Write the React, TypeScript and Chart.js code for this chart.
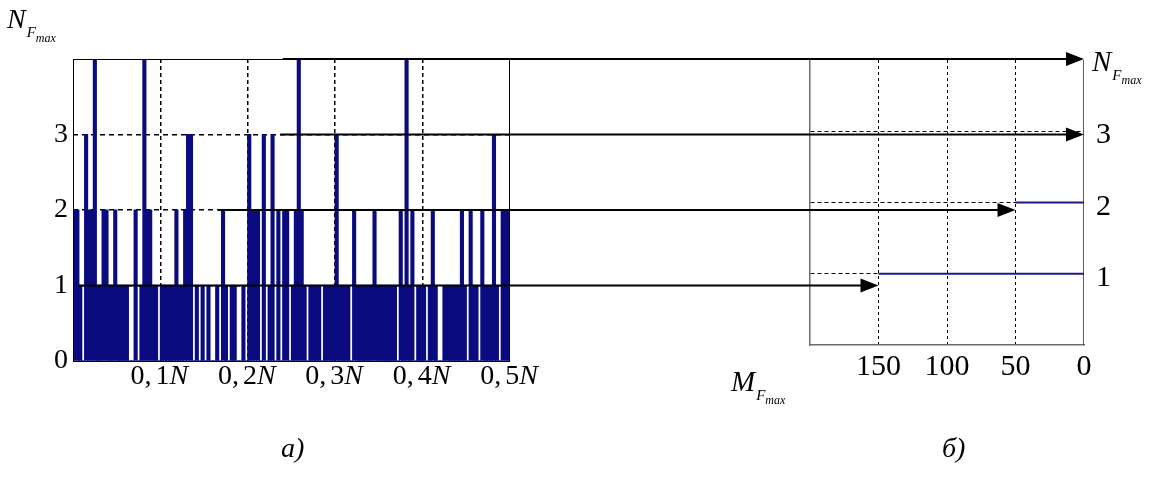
import React, { useEffect, useRef } from 'react';
import { Chart, registerables } from 'chart.js';

Chart.register(...registerables);

const W = 1157;
const H = 479;
const SERIF = '"Liberation Serif", "Times New Roman", "DejaVu Serif", serif';
const NAVY = '#0b0b80';
const LINE_NAVY = '#1c1c86';

// ---- left chart (a): N_Fmax per bin over 0..0.5N ----
const barValues: number[] = [
  2, 2, 1, 0, 3, 2, 2, 4, 1, 1,
  2, 2, 1, 1, 2, 1, 1, 1, 1, 0,
  0, 2, 0, 1, 4, 2, 2, 1, 1, 0,
  1, 1, 1, 1, 1, 2, 1, 1, 2, 3,
  3, 0, 1, 0, 1, 0, 1, 0, 0, 1,
  0, 2, 1, 0, 1, 1, 0, 0, 1, 0,
  3, 2, 2, 2, 0, 3, 0, 1, 3, 0,
  2, 0, 2, 2, 0, 1, 2, 4, 2, 1,
  0, 1, 1, 1, 1, 0, 1, 1, 1, 1,
  3, 1, 1, 1, 1, 0, 2, 1, 1, 1,
  1, 1, 1, 2, 1, 1, 1, 1, 1, 1,
  1, 0, 2, 1, 4, 1, 2, 0, 1, 1,
  1, 0, 1, 2, 1, 0, 0, 1, 1, 1,
  1, 1, 1, 2, 1, 0, 2, 1, 1, 0,
  2, 1, 1, 1, 3, 1, 0, 2, 2, 2,
];
const xRangeN = 0.5;
const xTickValues = [0.1, 0.2, 0.3, 0.4, 0.5];
const xTickNumbers = ['0,', '0,', '0,', '0,', '0,'];
const xTickDigits = ['1', '2', '3', '4', '5'];
const yTickValues = [0, 1, 2, 3];

// ---- right chart (b): M_Fmax ----
const mTickValues = [150, 100, 50, 0];
const stepLevels = [1, 2];
const stepStartM = [150, 50];
const rightLabelLevels = [3, 2, 1];

// ---- arrows linking (a) to (b) ----
const arrowLevels = [4, 3, 2, 1];
const arrowStartN = [0.24, 0.237, 0.166, 0.006];
const arrowEndM = [0, 0, 50, 150];

type Part = { t: string; size: number; italic?: boolean; dx?: number; dy?: number };

function drawParts(ctx: CanvasRenderingContext2D, parts: Part[], x: number, y: number, align: 'left' | 'center') {
  ctx.save();
  ctx.textAlign = 'left';
  ctx.textBaseline = 'alphabetic';
  ctx.fillStyle = '#000';
  let total = 0;
  const widths = parts.map((p) => {
    ctx.font = `${p.italic ? 'italic ' : ''}${p.size}px ${SERIF}`;
    const w = ctx.measureText(p.t).width;
    total += w + (p.dx || 0);
    return w;
  });
  let cx = align === 'center' ? x - total / 2 : x;
  parts.forEach((p, i) => {
    cx += p.dx || 0;
    ctx.font = `${p.italic ? 'italic ' : ''}${p.size}px ${SERIF}`;
    ctx.fillText(p.t, cx, y + (p.dy || 0));
    cx += widths[i];
  });
  ctx.restore();
}

export default function App() {
  const refA = useRef<HTMLCanvasElement>(null);
  const refB = useRef<HTMLCanvasElement>(null);

  useEffect(() => {
    const bin = xRangeN / barValues.length;
    const leftPlugin = {
      id: 'leftDecor',
      afterDraw(chart: any) {
        const ctx: CanvasRenderingContext2D = chart.ctx;
        const a = chart.chartArea;
        ctx.save();
        ctx.strokeStyle = '#000';
        ctx.lineWidth = 1;
        ctx.strokeRect(a.left + 0.5, a.top + 0.5, a.right - a.left - 1, a.bottom - a.top);
        ctx.restore();
        const xs = chart.scales.x;
        xTickValues.forEach((v, i) => {
          drawParts(
            ctx,
            [
              { t: xTickNumbers[i], size: 28 },
              { t: xTickDigits[i], size: 28, dx: 4 },
              { t: 'N', size: 28, italic: true },
            ],
            xs.getPixelForValue(v) - 1,
            384,
            'center'
          );
        });
        drawParts(
          ctx,
          [
            { t: 'N', size: 28, italic: true },
            { t: 'F', size: 15, italic: true, dx: 1, dy: 9 },
            { t: 'max', size: 12, italic: true, dy: 14 },
          ],
          7,
          28,
          'left'
        );
        drawParts(ctx, [{ t: 'а)', size: 28, italic: true }], 281, 457, 'left');
      },
    };

    const chartA = new Chart(refA.current as HTMLCanvasElement, {
      type: 'bar',
      data: {
        datasets: [
          {
            data: barValues.map((v, i) => ({ x: (i + 0.5) * bin, y: v })),
            backgroundColor: NAVY,
            borderWidth: 0,
            inflateAmount: 0.6,
            barPercentage: 1,
            categoryPercentage: 1,
          } as any,
        ],
      },
      options: {
        animation: false,
        responsive: false,
        events: [],
        layout: { padding: { left: 0, top: 59, right: W - 510, bottom: 0 } },
        plugins: { legend: { display: false }, tooltip: { enabled: false } },
        scales: {
          x: {
            type: 'linear',
            min: 0,
            max: xRangeN,
            offset: false,
            ticks: { stepSize: 0.1, display: false },
            grid: {
              offset: false,
              drawTicks: false,
              lineWidth: 1.5,
              color: (c: any) => (c.index >= 1 && c.index <= 4 ? '#000' : 'rgba(0,0,0,0)'),
            },
            border: { display: false, dash: [4, 3] },
            afterFit: (s: any) => {
              s.height = H - 361;
            },
          },
          y: {
            min: 0,
            max: 4,
            afterBuildTicks: (s: any) => {
              s.ticks = [...yTickValues, 4].map((v) => ({ value: v }));
            },
            ticks: {
              callback: (v: any) => (yTickValues.includes(Number(v)) ? String(v) : ''),
              font: { family: SERIF, size: 28 },
              color: '#000',
              padding: 5,
            },
            grid: {
              drawTicks: false,
              lineWidth: 1.5,
              color: (c: any) => (c.tick && c.tick.value >= 1 && c.tick.value <= 3 ? '#000' : 'rgba(0,0,0,0)'),
            },
            border: { display: false, dash: [5, 4] },
            afterFit: (s: any) => {
              s.width = 73;
            },
          },
        },
      } as any,
      plugins: [leftPlugin],
    });

    const rightPlugin = {
      id: 'rightDecor',
      afterDraw(chart: any) {
        const ctx: CanvasRenderingContext2D = chart.ctx;
        const ax = chartA.scales.x;
        const ay = chartA.scales.y;
        const bx = chart.scales.x;
        const by = chart.scales.y;
        // arrows
        arrowLevels.forEach((lvl, i) => {
          const y = ay.getPixelForValue(lvl);
          const x0 = ax.getPixelForValue(arrowStartN[i]);
          const tip = bx.getPixelForValue(arrowEndM[i]);
          const head = 18;
          ctx.save();
          ctx.strokeStyle = '#000';
          ctx.fillStyle = '#000';
          ctx.lineWidth = 2;
          ctx.beginPath();
          ctx.moveTo(x0, y);
          ctx.lineTo(tip - head + 2, y);
          ctx.stroke();
          ctx.beginPath();
          ctx.moveTo(tip, y);
          ctx.lineTo(tip - head, y - 7);
          ctx.lineTo(tip - head, y + 7);
          ctx.closePath();
          ctx.fill();
          ctx.restore();
        });
        // right-side level labels
        rightLabelLevels.forEach((lvl) => {
          drawParts(ctx, [{ t: String(lvl), size: 30 }], 1096, by.getPixelForValue(lvl) + 12, 'left');
        });
        drawParts(
          ctx,
          [
            { t: 'N', size: 29, italic: true },
            { t: 'F', size: 15, italic: true, dx: 1, dy: 9 },
            { t: 'max', size: 12, italic: true, dy: 13 },
          ],
          1092,
          71,
          'left'
        );
        drawParts(
          ctx,
          [
            { t: 'M', size: 29, italic: true },
            { t: 'F', size: 15, italic: true, dx: 1, dy: 9 },
            { t: 'max', size: 12, italic: true, dy: 13 },
          ],
          731,
          391,
          'left'
        );
        drawParts(ctx, [{ t: 'б)', size: 28, italic: true }], 942, 457, 'left');
      },
    };

    const stepSets = stepLevels.map((lvl, i) => ({
      data: [
        { x: stepStartM[i], y: lvl },
        { x: 0, y: lvl },
      ],
      borderColor: LINE_NAVY,
      borderWidth: 2,
      pointRadius: 0,
    }));

    const chartB = new Chart(refB.current as HTMLCanvasElement, {
      type: 'line',
      data: {
        datasets: [
          ...stepSets,
          {
            data: [
              { x: 0, y: 0 },
              { x: 0, y: 4 },
            ],
            borderColor: LINE_NAVY,
            borderWidth: 1.5,
            pointRadius: 0,
          },
        ],
      },
      options: {
        animation: false,
        responsive: false,
        events: [],
        layout: { padding: { left: 810, top: 60, right: W - 1084, bottom: 0 } },
        plugins: { legend: { display: false }, tooltip: { enabled: false } },
        scales: {
          x: {
            type: 'linear',
            reverse: true,
            min: 0,
            max: 200,
            ticks: {
              stepSize: 50,
              callback: (v: any) => (mTickValues.includes(Number(v)) ? String(v) : ''),
              font: { family: SERIF, size: 30 },
              color: '#000',
              padding: 4,
              maxRotation: 0,
            },
            grid: {
              drawTicks: false,
              lineWidth: 1,
              color: (c: any) => (c.tick && c.tick.value > 0 && c.tick.value < 200 ? '#000' : 'rgba(0,0,0,0)'),
            },
            border: { display: true, color: '#6e6e6e', width: 1.5, dash: [3, 3] },
            afterFit: (s: any) => {
              s.height = H - 345;
            },
          },
          y: {
            min: 0,
            max: 4,
            ticks: { display: false, stepSize: 1 },
            grid: {
              drawTicks: false,
              lineWidth: 1,
              color: (c: any) => (c.tick && c.tick.value >= 1 && c.tick.value <= 3 ? '#000' : 'rgba(0,0,0,0)'),
            },
            border: { display: true, color: '#6e6e6e', width: 1.5, dash: [4, 3] },
            afterFit: (s: any) => {
              s.width = 0;
            },
          },
        },
      } as any,
      plugins: [rightPlugin],
    });

    return () => {
      chartB.destroy();
      chartA.destroy();
    };
  }, []);

  return (
    <div style={{ position: 'fixed', left: 0, top: 0, width: W, height: H, background: '#fff' }}>
      <canvas ref={refA} width={W} height={H} style={{ position: 'absolute', left: 0, top: 0 }} />
      <canvas ref={refB} width={W} height={H} style={{ position: 'absolute', left: 0, top: 0 }} />
    </div>
  );
}
